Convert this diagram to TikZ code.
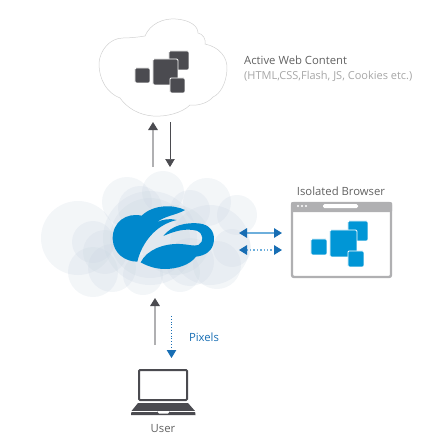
\documentclass[tikz,border=0pt]{standalone}
\usepackage{fontspec}
\setmainfont{Open Sans}
\usetikzlibrary{positioning,arrows.meta}
\definecolor{chIcon}{RGB}{75,75,80}
\definecolor{chBlue}{RGB}{0,150,214}
\definecolor{chLogo}{RGB}{0,136,204}
\definecolor{chHead}{RGB}{24,110,180}
\definecolor{chShaft}{RGB}{110,175,220}
\definecolor{chFrame}{RGB}{176,176,178}
\definecolor{chMist}{RGB}{200,212,224}
\begin{document}
\begin{tikzpicture}[x=1pt,y=-1pt,
   sq/.style={rectangle,rounded corners=1.2pt,inner sep=0pt,anchor=north west,draw=white,line width=0.8pt},
   lbl/.style={inner sep=0pt,font=\fontsize{11.3}{13}\selectfont,text=black!62},
   puff/.style={fill=chMist,fill opacity=0.22},
   grayup/.style={draw=chFrame,line width=1.5pt,-{Triangle[length=8pt,width=9.5pt,color=chIcon]}},
   graydn/.style={draw=chIcon,line width=0.7pt,-{Triangle[length=8pt,width=9.5pt,color=chIcon]}},
   duplex/.style={draw=chShaft,line width=1.4pt,{Triangle[length=8pt,width=9.5pt,color=chHead]}-{Triangle[length=8pt,width=9.5pt,color=chHead]}}]
\useasboundingbox (0,0) rectangle (445,437);

%% ---- content cloud ----
\draw[black!18,line width=0.5pt] (145,36)
  .. controls (150,24) and (163,18) .. (176,19)
  .. controls (190,20) and (198,26) .. (198,33)
  .. controls (203,34) and (206,39) .. (205,44)
  .. controls (219,47) and (228,57) .. (227,70)
  .. controls (226,84) and (220,94) .. (213,97)
  .. controls (208,103) and (198,106) .. (190,105)
  .. controls (182,113) and (166,117) .. (153,116)
  .. controls (139,115) and (127,108) .. (120,98)
  .. controls (107,93) and (99,80) .. (99,63)
  .. controls (100,50) and (110,38) .. (123,38)
  .. controls (130,38) and (139,37) .. (145,36) -- cycle;
\node[sq,fill=chIcon,minimum width=20pt,minimum height=19pt] (ctop) at (168.5,50.5) {};
\node[sq,fill=chIcon,minimum width=15pt,minimum height=15pt] (cleft) at (134.5,67.5) {};
\node[sq,fill=chIcon,minimum width=25pt,minimum height=26pt] (cmid) at (152.5,58.5) {};
\node[sq,fill=chIcon,minimum width=15pt,minimum height=15pt] (cbot) at (169.5,77.5) {};
\node[lbl,anchor=west] (title) at (244,60) {Active Web Content};
\node[lbl,anchor=west,text=black!35,font=\fontsize{11}{13}\selectfont] (formats) at (244,76) {(HTML,CSS,Flash, JS, Cookies etc.)};

%% ---- arrows to cloud ----
\coordinate (upA) at (153,167);
\coordinate (upB) at (153,122);
\coordinate (dnA) at (170,122);
\coordinate (dnB) at (170,167);
\draw[grayup] (upA)--(upB);
\draw[graydn] (dnA)--(dnB);

%% ---- mist behind the logo ----
\begin{scope}
  \clip (20,160) rectangle (261,300);
  \fill[puff] (78,238) circle (37);
  \fill[puff] (93,272) circle (25);
  \fill[puff] (112,268) circle (24);
  \fill[puff] (127,202) circle (25);
  \fill[puff] (140,208) circle (22);
  \fill[puff] (163,192) circle (21);
  \fill[puff] (150,238) circle (47);
  \fill[puff] (150,238) circle (40);
  \fill[puff] (93,242) circle (21);
  \fill[puff] (105,252) circle (22);
  \fill[puff] (143,275) circle (20);
  \fill[puff] (180,272) circle (20);
  \fill[puff] (207,202) circle (24);
  \fill[puff] (190,210) circle (20);
  \fill[puff] (237,215) circle (20);
  \fill[puff] (210,245) circle (40);
  \fill[puff] (217,265) circle (24);
  \fill[puff] (232,248) circle (19);
  \fill[puff] (190,262) circle (24);
  \fill[puff] (175,240) circle (35);
\end{scope}

%% ---- logo ----
\begin{scope}[shift={(30,165)},x=1/3*1pt,y=-1/3*1pt]
  \fill[chLogo] (465,135)
    .. controls (430,118) and (370,118) .. (335,152)
    .. controls (290,142) and (247,170) .. (248,222)
    .. controls (250,265) and (285,290) .. (322,290)
    .. controls (335,235) and (375,180) .. (440,165)
    .. controls (420,160) and (400,162) .. (380,172)
    .. controls (405,152) and (440,150) .. (465,135) -- cycle;
  \fill[chLogo] (400,213)
    .. controls (425,180) and (470,172) .. (505,175)
    .. controls (540,178) and (553,200) .. (552,225)
    .. controls (550,258) and (525,272) .. (498,275)
    .. controls (480,300) and (440,312) .. (405,312)
    .. controls (380,312) and (355,305) .. (332,292)
    .. controls (350,255) and (400,235) .. (450,237)
    .. controls (470,237) and (490,245) .. (505,240)
    .. controls (522,232) and (522,205) .. (500,197)
    .. controls (465,188) and (430,200) .. (400,213) -- cycle;
\end{scope}

%% ---- browser window ----
\node[lbl,anchor=center] (browsertitle) at (341,191) {Isolated Browser};
\draw[chFrame,line width=2.4pt,rounded corners=2pt,fill=white] (292,203) rectangle (391,277);
\fill[chFrame,rounded corners=1pt] (291,202) rectangle (392,212);
\fill[white,rounded corners=1.5pt] (323,204) rectangle (358,208);
\foreach \px in {298,302,306} \fill[white] (\px,206) circle (1.2);
\node[sq,fill=chBlue,minimum width=20pt,minimum height=20pt] (btop) at (347.5,220.5) {};
\node[sq,fill=chBlue,minimum width=16pt,minimum height=16pt] (bleft) at (310.5,238.5) {};
\node[sq,fill=chBlue,minimum width=27pt,minimum height=27pt] (bmid) at (329.5,229.5) {};
\node[sq,fill=chBlue,minimum width=16pt,minimum height=16pt] (bbot) at (347.5,250.5) {};

%% ---- arrows to browser ----
\coordinate (solA) at (239,233);
\coordinate (solB) at (282,233);
\coordinate (dotA) at (239,250);
\coordinate (dotB) at (282,250);
\draw[duplex] (solA)--(solB);
\draw[duplex,dotted] (dotA)--(dotB);

%% ---- arrows to user ----
\coordinate (pxA) at (155,345);
\coordinate (pxB) at (155,298);
\coordinate (pxC) at (171.5,316);
\coordinate (pxD) at (171.5,358);
\draw[grayup] (pxA)--(pxB);
\draw[draw=chHead,line width=0.8pt,dotted,-{Triangle[length=8pt,width=9.5pt,color=chHead]}] (pxC)--(pxD);
\node[lbl,anchor=center,text=chHead] (pixels) at (204,337) {Pixels};

%% ---- laptop ----
\draw[chIcon,line width=2pt,rounded corners=1pt,fill=white] (139,370) rectangle (187,400);
\fill[chIcon] (138,403) -- (188,403) -- (195,411) -- (195.5,415) -- (131,415) -- (131.5,411) -- cycle;
\fill[white] (157,411) -- (170,411) -- (168,413.5) -- (159,413.5) -- cycle;
\draw[white,line width=0.6pt] (131,411) -- (157,411) (170,411) -- (196,411);
\node[lbl,anchor=center] (user) at (163,429) {User};
\end{tikzpicture}
\end{document}
